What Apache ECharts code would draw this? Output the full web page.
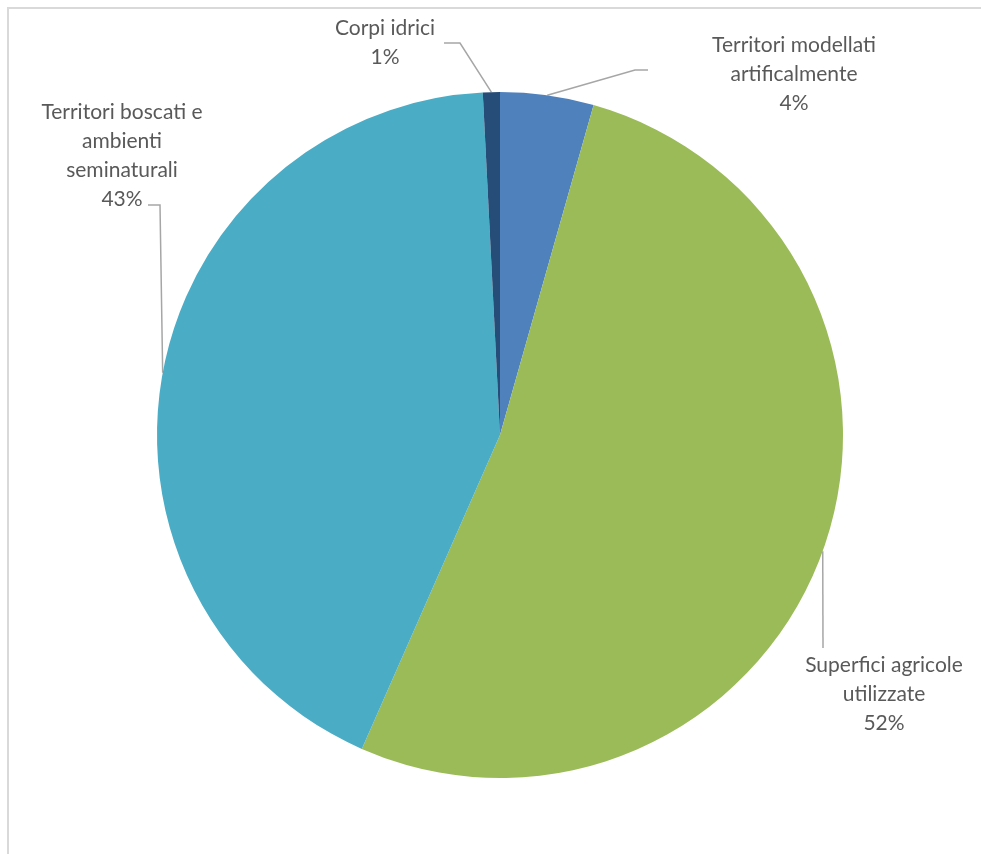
<!DOCTYPE html>
<html><head><meta charset="utf-8">
<script src="https://cdn.jsdelivr.net/npm/echarts@6/dist/echarts.min.js"></script>
<style>html,body{margin:0;padding:0;background:#fff;}#c{width:981px;height:854px;}</style>
</head><body><div id="c"></div>
<script>
const categories = ["Territori modellati artificalmente", "Superfici agricole utilizzate", "Territori boscati e ambienti seminaturali", "Corpi idrici"];
const labelLines = ["Territori modellati\nartificalmente\n4%", "Superfici agricole\nutilizzate\n52%", "Territori boscati e\nambienti\nseminaturali\n43%", "Corpi idrici\n1%"];
const values = [4.4, 52.2, 42.6, 0.8];
const colors = ["#4f81bd", "#9bbb59", "#4bacc6", "#264d78"];

// label placement (style/layout only)
const layouts = [
  {x: 794, y: 31, elbow: [[635, 70], [648, 70]]},
  {x: 884, y: 651, elbow: [[823, 648]]},
  {x: 122, y: 98, elbow: [[160, 205], [148, 205]]},
  {x: 385, y: 14, elbow: [[460, 43], [444, 43]]}
];

const chart = echarts.init(document.getElementById('c'));
chart.setOption({
  animation: false,
  backgroundColor: '#fff',
  graphic: [{type: 'rect', shape: {x: 8, y: 8, width: 1100, height: 1000}, style: {fill: 'none', stroke: '#d9d9d9', lineWidth: 2}}],
  series: [{
    type: 'pie',
    center: [500, 435],
    radius: 343,
    startAngle: 90,
    clockwise: true,
    data: categories.map((c, i) => ({name: c, value: values[i], itemStyle: {color: colors[i]}, label: {formatter: labelLines[i]}})),
    itemStyle: {borderWidth: 0},
    label: {
      show: true, position: 'outside', color: '#595959', overflow: 'none',
      fontFamily: 'Lato, "Open Sans", sans-serif', fontSize: 21, lineHeight: 29, align: 'center'
    },
    labelLine: {show: true, lineStyle: {color: '#a6a6a6', width: 1.5}, smooth: false},
    labelLayout: function (p) {
      const L = layouts[p.dataIndex];
      const start = p.labelLinePoints ? p.labelLinePoints[0] : [0, 0];
      return {
        x: L.x, y: L.y, align: 'center', verticalAlign: 'top',
        labelLinePoints: [start].concat(L.elbow)
      };
    }
  }]
});
</script></body></html>
